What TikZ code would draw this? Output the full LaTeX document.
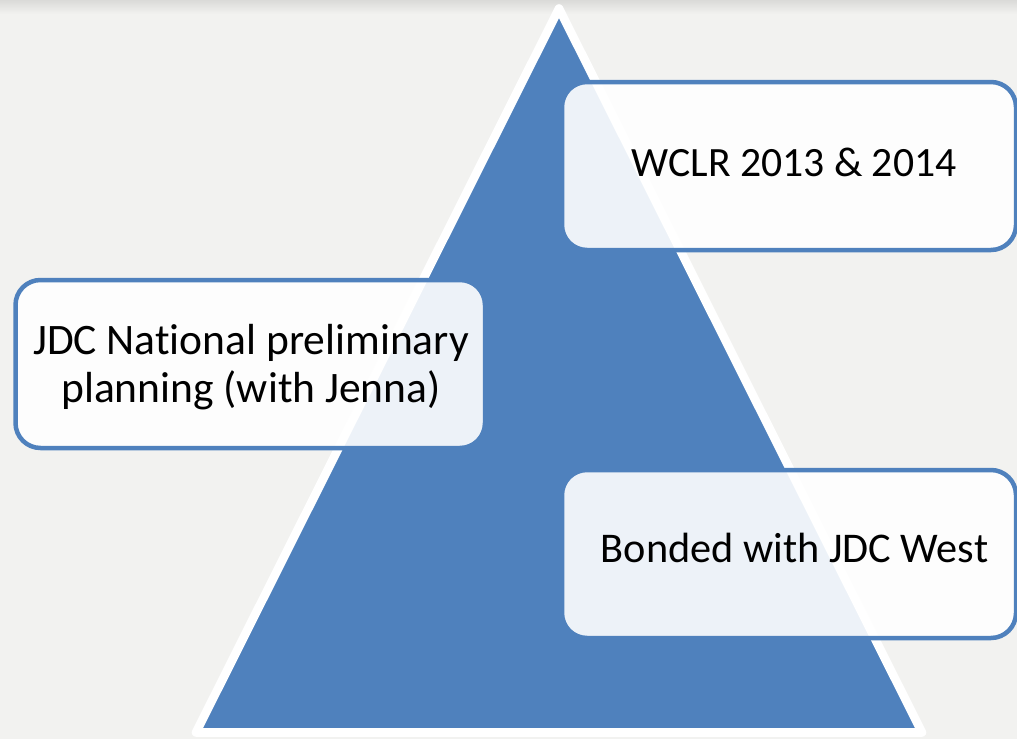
\documentclass[tikz,border=0pt]{standalone}
\usepackage{fontspec}
\setmainfont{Carlito}[Ligatures={NoCommon}]
\definecolor{bg}{HTML}{F2F2F0}
\definecolor{topgray}{HTML}{DADAD8}
\definecolor{triblue}{HTML}{4F81BD}
\definecolor{boxline}{HTML}{4F81BD}
\begin{document}
\begin{tikzpicture}[x=1pt,y=-1pt,
  card/.style={draw=boxline, line width=4.5pt, fill=white, fill opacity=0.9,
    draw opacity=1, rounded corners=25pt, inner sep=0pt},
  cardtext/.style={text=black, inner sep=0pt, align=center}]
\useasboundingbox (0,0) rectangle (1017,739);
\fill[bg] (0,0) rectangle (1017,739);
\shade[top color=topgray, bottom color=bg] (0,0) rectangle (1017,14);
% triangle
\coordinate (apex) at (559,8.5);
\coordinate (bl) at (196,732.5);
\coordinate (br) at (922,732.5);
\fill[black!25, opacity=0.35] ([xshift=2pt,yshift=-2pt]apex) -- ([xshift=2pt,yshift=-3pt]bl) -- ([xshift=3pt,yshift=-3pt]br) -- cycle;
\filldraw[fill=triblue, draw=white, line width=8.6pt, line join=round] (apex) -- (bl) -- (br) -- cycle;
% boxes
\node[card, minimum width=454pt, minimum height=168pt] (b1) at (789,166) {};
\node[card, minimum width=469.5pt, minimum height=168pt] (b2) at (250.25,364) {};
\node[card, minimum width=454pt, minimum height=168pt] (b3) at (789,554) {};
% texts
\node[cardtext, anchor=base, font=\fontsize{41.7}{50}\selectfont] (t1) at (794,176) {WCLR 2013 \& 2014};
\node[cardtext, anchor=center, font=\fontsize{43.5}{48}\selectfont] (t2) at (251,367) {JDC National preliminary\\planning (with Jenna)};
\node[cardtext, anchor=base, font=\fontsize{42.3}{50}\selectfont] (t3) at (794.5,562) {Bonded with JDC West};
\end{tikzpicture}
\end{document}
